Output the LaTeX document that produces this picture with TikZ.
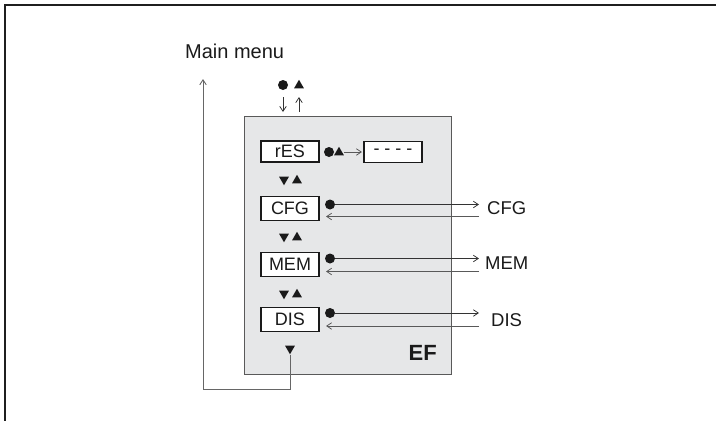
\documentclass[tikz,border=0pt]{standalone}
\usepackage{fontspec}
\setmainfont{Liberation Sans}
\usetikzlibrary{arrows.meta,shapes.geometric}
\definecolor{panelgray}{HTML}{E6E7E8}
\definecolor{ink}{HTML}{1A1A1A}
\begin{document}
\begin{tikzpicture}[x=1pt,y=-1pt,
  lbl/.style={font=\fontsize{18.5}{21}\selectfont, text=ink, inner sep=0pt},
  menubox/.style={draw=ink, line width=1.4pt, fill=white, minimum width=58pt, minimum height=24pt, inner sep=0pt, font=\fontsize{18}{20}\selectfont, text=ink},
  dot/.style={circle, fill=ink, minimum size=10pt, inner sep=0pt},
  uptri/.style={regular polygon, regular polygon sides=3, fill=ink, minimum size=11.5pt, inner sep=0pt},
  dntri/.style={uptri, shape border rotate=180},
  conn/.style={line width=0.75pt, draw=black!80, -{Straight Barb[length=5pt,width=6.5pt]}},
  retconn/.style={conn, draw=black!65},
  ]
\useasboundingbox (0,0) rectangle (716,421);
% frame
\draw[line width=2pt, draw=black!88] (5,421) -- (5,5) -- (716,5);
% panel
\filldraw[fill=panelgray, draw=black!65, line width=1pt] (244,116) rectangle (451,374);
\node[font=\bfseries\fontsize{22}{24}\selectfont, text=ink, inner sep=0pt, anchor=east] (ef) at (437,353) {EF};
% main menu
\node[font=\fontsize{20}{23}\selectfont, text=ink, inner sep=0pt, anchor=base west] (mm) at (185,58.3) {Main menu};
% top symbols
\node[dot] (topdot) at (283,85) {};
\node[uptri] (toptri) at (299,85.5) {};
\coordinate (tdA) at (283,97);
\coordinate (tdB) at (283,112);
\coordinate (tuA) at (299,112);
\coordinate (tuB) at (299,97);
\draw[conn] (tdA) -- (tdB);
\draw[conn] (tuA) -- (tuB);
% menu boxes
\node[menubox, minimum height=21pt] (res) at (290,151.5) {rES};
\node[menubox] (cfg) at (290,208.5) {CFG};
\node[menubox] (mem) at (290,264.5) {MEM};
\node[menubox] (dis) at (290,319.5) {DIS};
\node[menubox, minimum height=21pt] (dash) at (393,152) {- - - -};
% rES row
\node[dot] (resdot) at (329,152) {};
\node[uptri] (restri) at (339,152.5) {};
\coordinate (resarrA) at (344,152);
\coordinate (resarrB) at (362,152);
\draw[conn, draw=black!65] (resarrA) -- (resarrB);
% up/down pairs
\node[dntri] (d1) at (284,179.5) {};
\node[uptri] (u1) at (297,180.5) {};
\node[dntri] (d2) at (284,236.5) {};
\node[uptri] (u2) at (297,237.5) {};
\node[dntri] (d3) at (284,293.5) {};
\node[uptri] (u3) at (297,294.5) {};
\node[dntri] (dend) at (290,348.5) {};
% dots
\node[dot] (cfgdot) at (330,204.5) {};
\node[dot] (memdot) at (330,258.5) {};
\node[dot] (disdot) at (330,313) {};
% right labels
\node[lbl, anchor=west] (cfgl) at (487,208.5) {CFG};
\node[lbl, anchor=west] (meml) at (485,263.5) {MEM};
\node[lbl, anchor=west] (disl) at (491,320) {DIS};
% outgoing
\coordinate (cfgout) at (479,204.5);
\coordinate (memout) at (479,258.5);
\coordinate (disout) at (479,313);
\draw[conn] (cfgdot) -- (cfgout);
\draw[conn] (memdot) -- (memout);
\draw[conn] (disdot) -- (disout);
% return
\coordinate (cfgin) at (479,216.5);
\coordinate (memin) at (479,271.5);
\coordinate (disin) at (479,326);
\coordinate (cfgret) at (326,216.5);
\coordinate (memret) at (326,271.5);
\coordinate (disret) at (326,326);
\draw[retconn] (cfgin) -- (cfgret);
\draw[retconn] (memin) -- (memret);
\draw[retconn] (disin) -- (disret);
% back to main menu
\coordinate (corner) at (203,389);
\coordinate (mmtip) at (203,79);
\draw[conn, draw=black!60, line width=0.9pt] (dend.south) -- (dend.south |- corner) -- (corner) -- (mmtip);
\end{tikzpicture}
\end{document}
